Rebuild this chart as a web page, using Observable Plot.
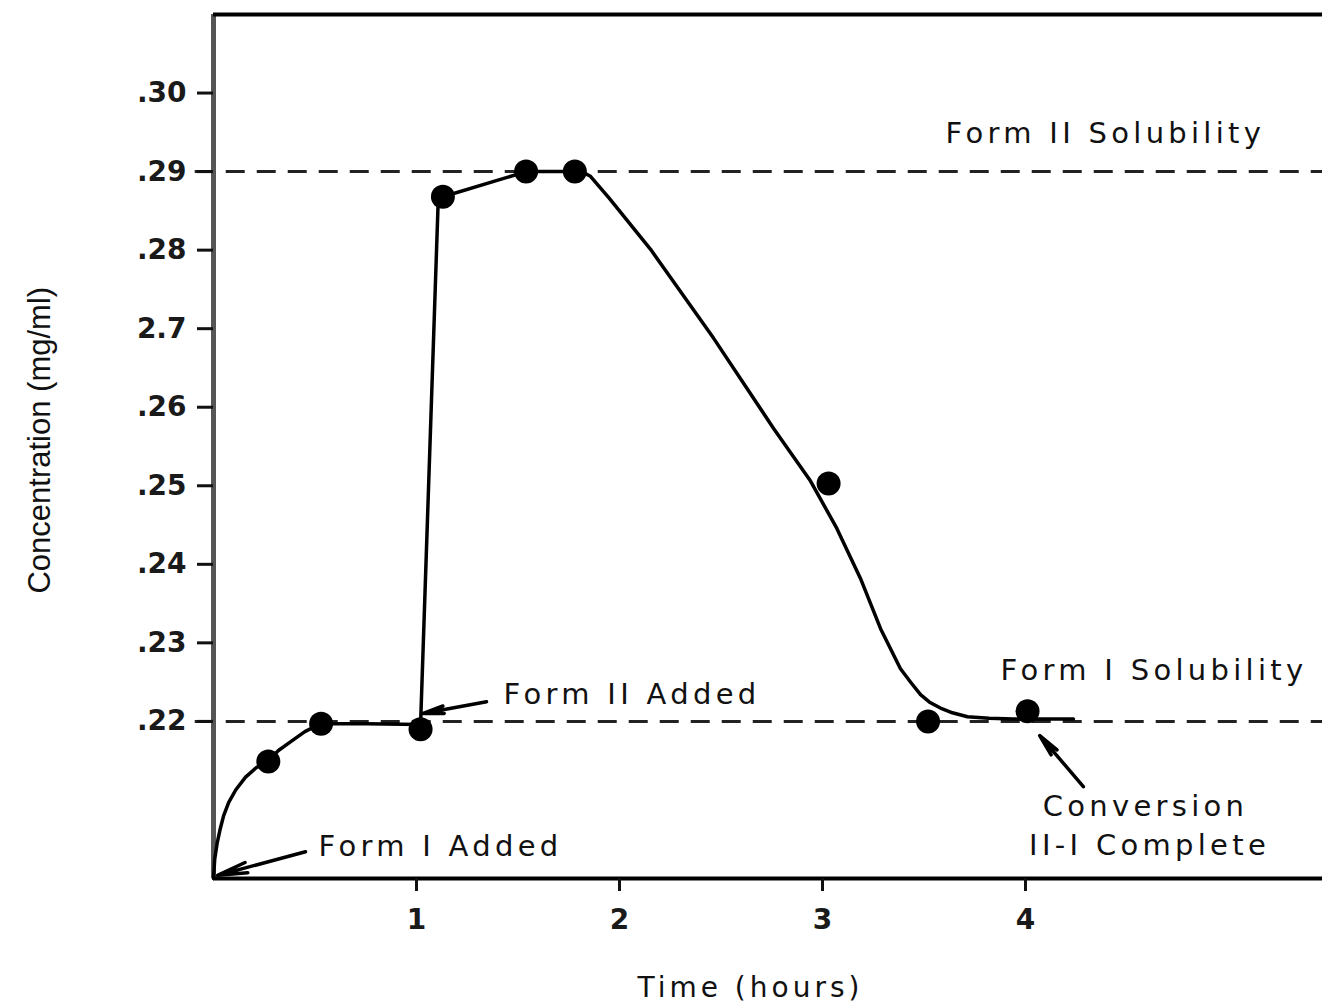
<!DOCTYPE html>
<html>
<head>
<meta charset="utf-8">
<script src="https://cdn.jsdelivr.net/npm/d3@7"></script>
<script src="https://cdn.jsdelivr.net/npm/@observablehq/plot@0.6"></script>
<style>
  html, body { margin: 0; padding: 0; background: #fff; }
  #chart svg { display: block; }
</style>
</head>
<body>
<div id="chart"></div>
<script>
// Measured points (time in hours, concentration in mg/ml)
const pointT = [0.27, 0.53, 1.02, 1.13, 1.54, 1.78, 3.03, 3.52, 4.01];
const pointC = [0.2149, 0.2197, 0.2190, 0.2868, 0.2900, 0.2900, 0.2503, 0.2200, 0.2213];

// Hand-drawn curve through the data
const curveT = [0, 0.006, 0.018, 0.032, 0.05, 0.075, 0.11, 0.158, 0.21, 0.27, 0.32, 0.379, 0.45, 0.527, 0.75, 1.02, 1.106, 1.13, 1.54, 1.78, 1.82, 1.857, 1.95, 2.153, 2.463, 2.759, 2.941, 3.07, 3.187, 3.286, 3.384, 3.44, 3.483, 3.53, 3.581, 3.64, 3.714, 3.82, 3.941, 4.236];
const curveC = [0.2000, 0.2025, 0.2045, 0.2062, 0.2080, 0.2097, 0.2113, 0.2129, 0.2141, 0.2150, 0.2163, 0.2174, 0.2187, 0.2197, 0.2197, 0.2196, 0.2856, 0.2868, 0.2900, 0.2900, 0.2899, 0.2894, 0.2866, 0.2801, 0.2688, 0.2573, 0.2506, 0.2446, 0.2382, 0.2318, 0.2267, 0.2248, 0.2234, 0.2224, 0.2217, 0.2211, 0.2206, 0.2204, 0.2203, 0.2203];

// Solubility reference levels
const solubility = [0.29, 0.22];

// Axis ticks
const yTicks = [0.30, 0.29, 0.28, 0.27, 0.26, 0.25, 0.24, 0.23, 0.22];
const yTickLabels = [".30", ".29", ".28", "2.7", ".26", ".25", ".24", ".23", ".22"];
const xTicks = [1, 2, 3, 4];
const xTickLabels = ["1", "2", "3", "4"];

// Annotations
const noteText = ["Form II Solubility", "Form I Solubility", "Form II Added", "Form I Added", "Conversion", "II-I Complete"];
const noteT = [3.606, 3.877, 1.429, 0.517, 4.591, 4.611];
const noteC = [0.29477, 0.22649, 0.22344, 0.20407, 0.20918, 0.20421];
const noteAnchor = ["start", "start", "start", "start", "middle", "middle"];

// Arrows (from label toward the event)
const arrowT1 = [0.453, 1.345, 4.285];
const arrowC1 = [0.2034, 0.2225, 0.2117];
const arrowT2 = [0.02, 1.03, 4.07];
const arrowC2 = [0.2004, 0.2210, 0.2182];

const points = pointT.map((t, i) => ({t, c: pointC[i]}));
const curve = curveT.map((t, i) => ({t, c: curveC[i]}));
const notes = noteText.map((s, i) => ({s, t: noteT[i], c: noteC[i], a: noteAnchor[i]}));
const arrows = arrowT1.map((t, i) => ({t1: t, c1: arrowC1[i], t2: arrowT2[i], c2: arrowC2[i]}));

const font = "DejaVu Sans, Verdana, sans-serif";

const plot = Plot.plot({
  width: 1324,
  height: 1004,
  marginLeft: 213,
  marginRight: 2,
  marginTop: 14,
  marginBottom: 126,
  style: {fontFamily: font, fontSize: "26px", color: "#111", background: "#fff", overflow: "visible"},
  x: {domain: [0, 5.463], axis: null},
  y: {domain: [0.20, 0.31], axis: null},
  marks: [
    // dashed solubility lines
    Plot.ruleY(solubility, {x1: -0.09, x2: 5.463, stroke: "#222", strokeWidth: 3, strokeDasharray: "19,12"}),
    // frame
    Plot.ruleX([0], {stroke: "#555", strokeWidth: 5}),
    Plot.ruleY([0.20], {stroke: "#000", strokeWidth: 4}),
    Plot.ruleY([0.31], {stroke: "#000", strokeWidth: 4}),
    // axes
    Plot.axisY({
      ticks: yTicks,
      tickFormat: d => yTickLabels[yTicks.findIndex(v => Math.abs(v - d) < 1e-9)],
      tickSize: 16,
      tickPadding: 11,
      strokeWidth: 3,
      fontSize: 28,
      fontWeight: "bold",
      fill: "#1a1a1a",
      label: null
    }),
    Plot.axisX({
      ticks: xTicks,
      tickFormat: d => xTickLabels[xTicks.indexOf(d)],
      tickSize: 13,
      tickPadding: 18,
      strokeWidth: 3,
      fontSize: 28,
      fontWeight: "bold",
      fill: "#1a1a1a",
      label: null
    }),
    // curve
    Plot.line(curve, {x: "t", y: "c", curve: "linear", stroke: "#000", strokeWidth: 3.5, strokeLinejoin: "round"}),
    // points
    Plot.dot(points, {x: "t", y: "c", r: 12, fill: "#000", stroke: "none"}),
    // arrows
    Plot.arrow(arrows, {x1: "t1", y1: "c1", x2: "t2", y2: "c2", stroke: "#000", strokeWidth: 3.5, headLength: 22, headAngle: 20}),
    // annotations
    Plot.text(notes.filter(d => d.a === "start"), {x: "t", y: "c", text: "s", textAnchor: "start", fontSize: 29, fill: "#111"}),
    Plot.text(notes.filter(d => d.a === "middle"), {x: "t", y: "c", text: "s", textAnchor: "middle", fontSize: 29, fill: "#111"}),
    // axis titles
    Plot.text([{t: 2.645, s: "Time (hours)"}], {x: "t", text: "s", frameAnchor: "bottom", textAnchor: "middle", lineAnchor: "middle", dy: 110, fontSize: 28, fill: "#111"}),
    Plot.text([{c: 0.2558, s: "Concentration (mg/ml)"}], {y: "c", text: "s", frameAnchor: "left", textAnchor: "middle", lineAnchor: "middle", dx: -173, rotate: -90, fontSize: 31, fill: "#111", fontFamily: "Liberation Sans, Arial, sans-serif"})
  ]
});

// wide lettering of the original
d3.select(plot).selectAll("g[aria-label=text] text").each(function() {
  const t = this.textContent;
  if (noteText.includes(t)) d3.select(this).style("letter-spacing", "4.3px");
  if (t === "Time (hours)") d3.select(this).style("letter-spacing", "4px");
});

document.getElementById("chart").appendChild(plot);
</script>
</body>
</html>
